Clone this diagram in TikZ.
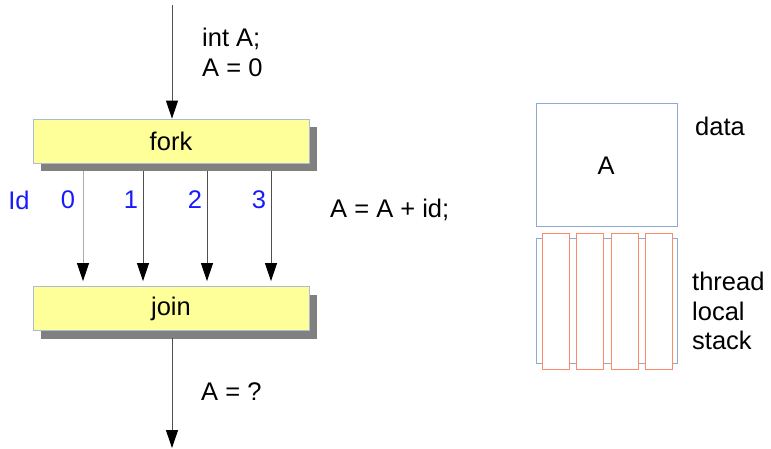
\documentclass[tikz,border=0pt]{standalone}
\usepackage{fontspec}
\setmainfont{Liberation Sans}
\usetikzlibrary{arrows.meta,shadows}

\definecolor{boxyellow}{HTML}{FFFF99}
\definecolor{boxedge}{HTML}{A8BCD4}
\definecolor{shadowgray}{HTML}{808080}
\definecolor{dataedge}{HTML}{8FAAD0}
\definecolor{stackedge}{HTML}{FF8A6A}
\definecolor{idblue}{HTML}{1A1AFF}
\definecolor{wire}{HTML}{505050}
\definecolor{lightwire}{HTML}{ADADAD}

\tikzset{
  txt/.style={font=\fontsize{25.5}{29.5}\selectfont, inner sep=0pt},
  phasebox/.style={txt, draw=boxedge, fill=boxyellow, line width=0.8pt,
    minimum width=276pt, minimum height=44pt,
    drop shadow={shadow xshift=8pt, shadow yshift=-8pt, fill=shadowgray, opacity=1}},
  flow/.style={draw=wire, line width=1pt,
    -{Triangle[width=12pt,length=18pt,color=black,fill=black]}},
  idlabel/.style={txt, text=idblue},
  memedge/.style={draw=dataedge, line width=0.9pt},
  slot/.style={draw=stackedge, fill=white, line width=0.9pt}
}

\begin{document}
\begin{tikzpicture}[x=1pt, y=-1pt]
  \useasboundingbox (0,0) rectangle (771,448);

  % fork / join phases
  \node[phasebox] (fork) at (171,141) {fork};
  \node[phasebox] (join) at (171,308.5) {join};

  % sequential part before the fork
  \coordinate (top) at (172,5);
  \draw[flow] (top) -- (top |- fork.north);
  \node[txt, anchor=west, align=left] (decl) at (202,52.5) {int A;\\A = 0};

  % one branch per thread
  \coordinate (t0) at (83,0);
  \coordinate (t1) at (143,0);
  \coordinate (t2) at (207,0);
  \coordinate (t3) at (271,0);
  \draw[flow, draw=lightwire] ([yshift=-8pt]fork.south -| t0) -- ([yshift=5pt]join.north -| t0);
  \draw[flow] ([yshift=-8pt]fork.south -| t1) -- ([yshift=5pt]join.north -| t1);
  \draw[flow] ([yshift=-8pt]fork.south -| t2) -- ([yshift=5pt]join.north -| t2);
  \draw[flow] ([yshift=-8pt]fork.south -| t3) -- ([yshift=5pt]join.north -| t3);

  \node[idlabel] (idl) at (19,200) {Id};
  \node[idlabel] (id0) at (68,200) {0};
  \node[idlabel] (id1) at (131,200) {1};
  \node[idlabel] (id2) at (195,200) {2};
  \node[idlabel] (id3) at (259,200) {3};
  \node[txt, anchor=west] (body) at (330,210) {A = A + id;};

  % after the join
  \coordinate (bottom) at (172,448);
  \draw[flow] ([yshift=-7pt]join.south -| bottom) -- (bottom);
  \node[txt, anchor=west] (result) at (201,392) {A = ?};

  % shared data
  \draw[memedge] (536,103) rectangle (677,226);
  \node[txt] (shared) at (606,166) {A};
  \node[txt, anchor=west] (datalbl) at (695,126) {data};

  % per-thread stacks
  \draw[memedge] (536,238) rectangle (677,363);
  \draw[slot] (542,233) rectangle (569,369);
  \draw[slot] (576,233) rectangle (603,369);
  \draw[slot] (611,233) rectangle (638,369);
  \draw[slot] (645,233) rectangle (672,369);
  \node[txt, anchor=west, align=left] (stacklbl) at (692,311) {thread\\local\\stack};
\end{tikzpicture}
\end{document}
